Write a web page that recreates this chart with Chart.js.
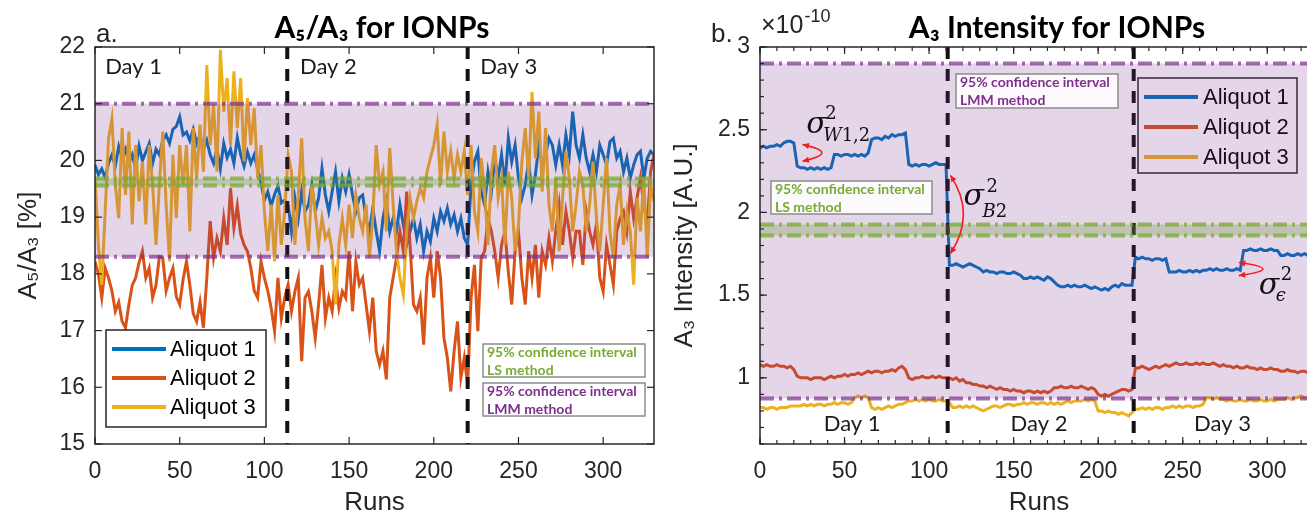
<!DOCTYPE html>
<html>
<head>
<meta charset="utf-8">
<script src="https://cdn.jsdelivr.net/npm/chart.js@4.4.1/dist/chart.umd.min.js"></script>
<style>
html, body { margin: 0; padding: 0; background: #fff; overflow: hidden; width: 1307px; height: 516px; }
#cA { position: absolute; left: 0; top: 0; }
#cB { position: absolute; left: 660px; top: 0; }
</style>
</head>
<body>
<canvas id="cA" width="670" height="516"></canvas>
<canvas id="cB" width="660" height="516"></canvas>
<script>
// runs are sampled every 2
const runs = [];
for (let r = 0; r <= 330; r += 2) runs.push(r);

const seriesNames = ['Aliquot 1', 'Aliquot 2', 'Aliquot 3'];
const seriesColors = ['#0072BD', '#D95319', '#EDB120'];
const dayNames = ['Day 1', 'Day 2', 'Day 3'];

// panel a: A5/A3 [%]
const ratioAliquot1 = [
  19.92, 19.75, 19.85, 19.70, 19.95, 20.10, 19.90, 20.25, 20.05, 20.20, 19.95, 20.10, 19.85, 20.25, 20.00, 20.15, 20.30, 19.95, 20.20, 20.10,
  20.35, 20.45, 20.30, 20.55, 20.60, 20.77, 20.45, 20.50, 20.35, 20.55, 20.30, 20.45, 20.20, 20.35, 20.10, 19.95, 20.20, 19.85, 20.30, 20.05,
  20.20, 19.95, 20.40, 20.10, 19.90, 20.15, 19.95, 20.10, 19.85, 19.60, 19.30, 19.45, 19.20, 19.40, 19.55, 19.25,
  19.30, 19.22, 18.75, 19.34, 18.98, 19.45, 19.10, 19.22, 19.57, 19.10, 19.34, 19.86, 19.39, 19.10, 19.45, 19.80, 19.28, 19.69, 19.45, 19.75,
  19.39, 19.10, 19.34, 19.39, 18.98, 18.75, 19.16, 18.75, 18.40, 18.98, 19.28, 18.75, 18.98, 18.75, 19.22, 18.87, 18.51, 18.75, 18.98, 18.63,
  18.87, 18.40, 18.75, 18.57, 18.98, 18.75, 19.10, 18.93, 19.16, 18.87, 19.04, 18.75, 18.98, 18.63, 18.51,
  19.57, 19.98, 20.16, 19.45, 19.22, 19.80, 19.45, 20.04, 19.69, 20.10, 19.57, 20.39, 19.98, 20.27, 19.69, 19.34, 19.57, 19.98, 19.39, 19.75,
  20.27, 19.92, 20.10, 20.39, 20.27, 19.92, 20.27, 19.92, 20.45, 20.10, 20.86, 20.27, 20.04, 20.45, 20.04, 19.80, 20.10, 19.80, 20.27, 20.10,
  19.92, 20.33, 20.39, 20.04, 20.16, 19.80, 20.04, 19.69, 19.92, 20.10, 20.16, 19.69, 20.04, 20.16, 20.10
];
const ratioAliquot2 = [
  18.22, 18.00, 17.58, 18.10, 17.93, 17.70, 17.34, 17.50, 17.16, 17.05, 17.46, 17.80, 17.93, 18.20, 18.40, 17.93, 18.10, 17.58, 17.80, 18.30,
  18.28, 17.70, 17.93, 18.10, 17.60, 17.46, 17.90, 18.22, 17.80, 17.30, 17.16, 17.50, 17.05, 17.93, 18.93, 18.28, 18.63, 18.40, 18.98, 18.51,
  19.51, 18.81, 19.20, 18.70, 18.51, 18.40, 18.10, 17.70, 17.58, 18.22, 17.93, 17.70, 17.40, 16.99, 17.93, 17.22,
  17.58, 17.81, 17.34, 17.69, 17.93, 16.46, 17.58, 17.69, 17.34, 16.87, 17.46, 18.16, 17.22, 17.58, 17.34, 17.93, 17.40, 17.69, 17.58, 18.40,
  17.34, 18.22, 17.81, 17.93, 17.46, 16.99, 17.58, 16.64, 16.40, 16.64, 16.14, 17.58, 17.93, 18.28, 18.75, 18.40, 19.45, 18.51, 17.46, 17.34,
  17.58, 16.75, 17.93, 18.28, 17.58, 18.40, 17.93, 16.87, 16.52, 15.93, 16.64, 17.16, 16.17, 16.52, 16.05,
  17.58, 18.16, 16.99, 18.28, 18.40, 18.98, 18.75, 18.40, 17.93, 18.51, 18.75, 18.04, 17.46, 18.40, 18.75, 17.93, 17.46, 18.40, 17.93, 18.51,
  17.58, 18.40, 18.16, 18.63, 18.22, 18.75, 19.22, 18.51, 19.10, 18.75, 18.28, 18.75, 18.75, 18.16, 19.10, 18.75, 18.51, 18.87, 17.93, 17.69,
  18.51, 18.16, 17.81, 18.75, 18.98, 19.10, 18.75, 19.45, 18.98, 19.34, 19.69, 19.22, 18.87, 19.80, 20.10
];
const ratioAliquot3 = [
  19.69, 18.51, 17.81, 19.10, 20.39, 20.74, 19.57, 18.98, 20.57, 19.39, 20.51, 18.87, 20.27, 19.28, 19.98, 18.87, 20.27, 19.57, 18.51, 19.57,
  20.51, 19.22, 18.22, 20.10, 18.98, 20.27, 19.57, 20.27, 18.75, 20.57, 19.69, 20.63, 19.80, 21.68, 20.27, 20.98, 19.80, 21.95, 20.86, 21.45,
  20.27, 21.57, 20.57, 21.45, 19.98, 21.10, 20.27, 20.92, 19.69, 20.27, 19.10, 18.40, 19.22, 18.22, 19.39, 18.51,
  19.10, 20.10, 19.80, 18.51, 19.39, 20.39, 18.98, 18.40, 19.57, 19.10, 18.51, 18.98, 18.63, 18.75, 18.40, 17.46, 18.51, 18.98, 18.51, 19.22,
  18.63, 19.39, 18.98, 18.75, 19.22, 18.28, 18.98, 20.27, 19.57, 19.80, 18.75, 20.22, 19.22, 18.40, 17.93, 17.63, 18.75, 19.34, 18.98, 19.28,
  19.51, 19.34, 19.80, 20.04, 20.27, 20.63, 19.57, 20.51, 19.80, 20.16, 19.69, 20.10, 19.80, 20.16, 19.39,
  20.27, 19.10, 18.75, 20.04, 19.45, 18.51, 19.80, 20.27, 19.34, 19.69, 18.51, 19.80, 19.34, 18.40, 18.87, 19.98, 20.57, 19.69, 21.21, 20.04,
  20.86, 19.45, 20.57, 19.22, 18.75, 19.69, 18.40, 19.34, 20.16, 19.69, 18.75, 19.22, 19.80, 19.57, 18.75, 19.22, 19.98, 18.98, 18.40, 19.22,
  20.04, 18.75, 18.28, 19.22, 19.57, 18.51, 19.10, 18.75, 17.81, 19.34, 18.75, 19.69, 18.28, 19.57, 19.28
];
const ratioLMM = [18.3, 21.0];
const ratioLS = [19.56, 19.68];
const ratioDayBreaks = [113.5, 220];

// panel b: A3 intensity, units of 1e-10
const intAliquot1 = [
  2.39, 2.40, 2.39, 2.40, 2.40, 2.41, 2.40, 2.42, 2.43, 2.43, 2.42,
  2.28, 2.27, 2.27, 2.26, 2.27, 2.26, 2.27, 2.26, 2.27, 2.26, 2.27,
  2.35, 2.35, 2.34, 2.35, 2.35, 2.34, 2.35, 2.34, 2.35, 2.34, 2.36,
  2.44, 2.45, 2.45, 2.44, 2.46, 2.45, 2.47, 2.46, 2.47, 2.47, 2.48,
  2.29, 2.28, 2.29, 2.28, 2.29, 2.29, 2.28, 2.29, 2.30, 2.29, 2.29, 2.29,
  1.68, 1.68, 1.69, 1.68, 1.67, 1.68, 1.69, 1.68, 1.67, 1.66,
  1.64, 1.65, 1.64, 1.64, 1.63, 1.64, 1.64, 1.63, 1.63, 1.64, 1.63, 1.62,
  1.60, 1.60, 1.61, 1.60, 1.61, 1.60, 1.59, 1.61, 1.60, 1.58,
  1.56, 1.55, 1.55, 1.56, 1.55, 1.56, 1.55, 1.55, 1.56, 1.55, 1.54, 1.55, 1.54, 1.53, 1.54, 1.53, 1.55, 1.56, 1.55, 1.57, 1.56, 1.56, 1.56,
  1.73, 1.72, 1.73, 1.72, 1.72, 1.71, 1.72, 1.72, 1.71, 1.72,
  1.64, 1.64, 1.64, 1.65, 1.64, 1.64, 1.65, 1.64, 1.65, 1.64, 1.65, 1.65, 1.66, 1.65, 1.66, 1.65, 1.65, 1.66, 1.65, 1.65, 1.66, 1.65,
  1.77, 1.77, 1.78, 1.77, 1.77, 1.78, 1.77, 1.77, 1.78, 1.77, 1.77,
  1.74, 1.74, 1.75, 1.74, 1.74, 1.75, 1.74, 1.75, 1.74, 1.74, 1.73, 1.74
];
const intAliquot2 = [
  1.08, 1.07, 1.08, 1.07, 1.07, 1.08, 1.07, 1.07, 1.06, 1.07, 1.05,
  1.01, 1.00, 1.00, 1.00, 0.99, 1.00, 1.00, 1.00, 0.99, 1.00, 1.01, 1.00, 1.01, 1.01, 1.02, 1.01, 1.02, 1.02, 1.03, 1.02,
  1.03, 1.04, 1.03, 1.04, 1.04, 1.03, 1.04, 1.04, 1.05, 1.04, 1.06, 1.07, 1.05,
  1.00, 0.99, 1.00, 1.00, 1.01, 1.00, 1.00, 1.01, 1.00, 1.01, 1.00, 1.00,
  1.00, 0.99, 1.00, 0.98, 0.99, 0.97, 0.97, 0.96, 0.96, 0.95, 0.95, 0.94, 0.95, 0.94, 0.93, 0.94, 0.93, 0.93, 0.92, 0.93,
  0.92, 0.92, 0.91, 0.92, 0.92, 0.91, 0.92, 0.91, 0.92, 0.91, 0.92, 0.94, 0.94, 0.95, 0.94, 0.94, 0.95, 0.94, 0.94, 0.95,
  0.94, 0.93, 0.94, 0.93, 0.90, 0.89, 0.90, 0.89, 0.90, 0.91, 0.92, 0.93, 0.93, 0.92, 0.93,
  1.06, 1.06, 1.07, 1.06, 1.05, 1.06, 1.07, 1.06, 1.07, 1.08, 1.07, 1.08, 1.09, 1.08, 1.08, 1.09, 1.08, 1.08, 1.09, 1.08,
  1.09, 1.08, 1.08, 1.09, 1.08, 1.07, 1.08, 1.07, 1.07, 1.06, 1.07, 1.06, 1.06, 1.07, 1.06, 1.06, 1.05, 1.06, 1.05, 1.05,
  1.06, 1.05, 1.05, 1.04, 1.04, 1.05, 1.04, 1.04, 1.03, 1.04, 1.04, 1.03, 1.04, 1.04, 1.03
];
const intAliquot3 = [
  0.82, 0.82, 0.81, 0.82, 0.82, 0.81, 0.82, 0.82, 0.82, 0.83, 0.83, 0.83, 0.83, 0.84, 0.83, 0.84, 0.83, 0.84, 0.84, 0.83,
  0.84, 0.84, 0.85, 0.84, 0.85, 0.85, 0.84, 0.85, 0.88, 0.89, 0.88, 0.89, 0.88, 0.82, 0.81, 0.82, 0.81, 0.82, 0.83, 0.82,
  0.83, 0.84, 0.84, 0.85, 0.86, 0.86, 0.87, 0.86, 0.87, 0.86, 0.87, 0.86, 0.86, 0.87, 0.86, 0.86,
  0.85, 0.82, 0.82, 0.83, 0.82, 0.83, 0.82, 0.83, 0.82, 0.81, 0.80, 0.81, 0.82, 0.83, 0.83, 0.82, 0.83, 0.84, 0.84, 0.83,
  0.84, 0.84, 0.85, 0.84, 0.85, 0.85, 0.84, 0.85, 0.85, 0.84, 0.85, 0.84, 0.85, 0.84, 0.85, 0.86, 0.85, 0.86, 0.86, 0.86,
  0.87, 0.86, 0.87, 0.86, 0.80, 0.80, 0.79, 0.80, 0.79, 0.79, 0.78, 0.79, 0.78, 0.77, 0.79,
  0.81, 0.81, 0.82, 0.81, 0.82, 0.81, 0.82, 0.82, 0.81, 0.82, 0.82, 0.83, 0.82, 0.83, 0.82, 0.83, 0.83, 0.82, 0.83, 0.83,
  0.84, 0.88, 0.88, 0.87, 0.88, 0.87, 0.87, 0.86, 0.87, 0.86, 0.86, 0.87, 0.86, 0.86, 0.87, 0.86, 0.86, 0.87, 0.86, 0.86,
  0.87, 0.86, 0.87, 0.87, 0.87, 0.88, 0.87, 0.88, 0.88, 0.89, 0.88, 0.88, 0.87, 0.88, 0.88
];
const intLMM = [0.875, 2.9];
const intLS = [1.86, 1.927];
const intDayBreaks = [111, 221];

const INK = '#262626';
const FONT = '"Liberation Sans", Arial, sans-serif';
const CAL = 'Lato, "Open Sans", sans-serif';
const SERIF = '"DejaVu Serif", "Liberation Serif", serif';

function makeSets(arrs) {
  return arrs.map((vals, i) => ({
    label: seriesNames[i],
    data: vals.map((v, k) => ({ x: runs[k], y: v })),
    borderColor: seriesColors[i],
    backgroundColor: seriesColors[i],
    borderWidth: 3,
    pointRadius: 0,
    tension: 0,
    order: 2 - i
  }));
}

function hline(ctx, a, y) { ctx.beginPath(); ctx.moveTo(a.left, y); ctx.lineTo(a.right, y); ctx.stroke(); }
function seg(ctx, x1, y1, x2, y2) { ctx.beginPath(); ctx.moveTo(x1, y1); ctx.lineTo(x2, y2); ctx.stroke(); }

function arrowHead(ctx, fx, fy, tx, ty) {
  const ang = Math.atan2(ty - fy, tx - fx), s = 7;
  ctx.beginPath();
  ctx.moveTo(tx, ty);
  ctx.lineTo(tx - s * Math.cos(ang - 0.45), ty - s * Math.sin(ang - 0.45));
  ctx.lineTo(tx - s * Math.cos(ang + 0.45), ty - s * Math.sin(ang + 0.45));
  ctx.closePath();
  ctx.fill();
}

const decor = {
  id: 'decor',
  afterDatasetsDraw(chart, args, o) {
    const ctx = chart.ctx, a = chart.chartArea, sx = chart.scales.x, sy = chart.scales.y;
    ctx.save();

    // legend
    const L = o.legend;
    ctx.fillStyle = '#fff';
    ctx.fillRect(L.x, L.y, L.w, L.h);
    ctx.strokeStyle = INK; ctx.lineWidth = 1.5;
    ctx.strokeRect(L.x, L.y, L.w, L.h);
    ctx.font = '22px ' + FONT; ctx.textBaseline = 'middle'; ctx.textAlign = 'left';
    seriesNames.forEach((n, i) => {
      ctx.strokeStyle = seriesColors[i]; ctx.lineWidth = 4;
      seg(ctx, L.lineX[0], L.rowY[i], L.lineX[1], L.rowY[i]);
      ctx.fillStyle = '#000';
      ctx.fillText(n, L.textX, L.rowY[i] + 1);
    });

    // day separators
    ctx.save();
    ctx.beginPath(); ctx.rect(a.left, a.top, a.right - a.left, a.bottom - a.top); ctx.clip();
    ctx.strokeStyle = '#111'; ctx.lineWidth = 4; ctx.setLineDash([12, 10]);
    o.breaks.forEach(b => { const x = sx.getPixelForValue(b); seg(ctx, x, a.top, x, a.bottom); });
    ctx.setLineDash([]);

    // confidence bands
    const pTop = sy.getPixelForValue(o.lmm[1]), pBot = sy.getPixelForValue(o.lmm[0]);
    ctx.fillStyle = 'rgba(126,47,142,0.2)';
    ctx.fillRect(a.left, pTop, a.right - a.left, pBot - pTop);
    const gTop = sy.getPixelForValue(o.ls[1]), gBot = sy.getPixelForValue(o.ls[0]);
    ctx.fillStyle = 'rgba(110,150,60,0.3)';
    ctx.fillRect(a.left, gTop, a.right - a.left, gBot - gTop);

    ctx.lineWidth = 4; ctx.setLineDash([14, 5, 3, 5]);
    ctx.strokeStyle = 'rgba(126,47,142,0.7)';
    hline(ctx, a, pTop); hline(ctx, a, pBot);
    ctx.strokeStyle = 'rgba(119,172,48,0.75)';
    hline(ctx, a, gTop); hline(ctx, a, gBot);
    ctx.setLineDash([]);
    ctx.restore();

    // box and inward ticks
    ctx.strokeStyle = INK; ctx.lineWidth = 1.5;
    ctx.strokeRect(a.left, a.top, a.right - a.left, a.bottom - a.top);
    ctx.lineWidth = 1.2;
    sx.ticks.forEach(t => {
      const x = sx.getPixelForValue(t.value);
      seg(ctx, x, a.bottom, x, a.bottom - 7); seg(ctx, x, a.top, x, a.top + 7);
    });
    sy.ticks.forEach(t => {
      const y = sy.getPixelForValue(t.value);
      seg(ctx, a.left, y, a.left + 7, y); seg(ctx, a.right, y, a.right - 7, y);
    });
    if (o.minorX) {
      for (let v = 0; v <= sx.max; v += o.minorX) {
        const x = sx.getPixelForValue(v);
        seg(ctx, x, a.bottom, x, a.bottom - 4); seg(ctx, x, a.top, x, a.top + 4);
      }
    }
    if (o.minorY) {
      for (let v = sy.min; v <= sy.max + 1e-9; v += o.minorY) {
        const y = sy.getPixelForValue(v);
        seg(ctx, a.left, y, a.left + 4, y); seg(ctx, a.right, y, a.right - 4, y);
      }
    }

    // day labels
    ctx.fillStyle = '#1a1a1a'; ctx.font = '22px ' + CAL; ctx.textBaseline = 'middle';
    o.days.forEach((d, i) => {
      ctx.textAlign = d.align;
      ctx.fillText(dayNames[i], sx.getPixelForValue(d.x), sy.getPixelForValue(d.y));
    });

    // confidence interval notes
    o.notes.forEach(n => {
      ctx.fillStyle = 'rgba(255,255,255,0.88)';
      ctx.fillRect(n.x, n.y, n.w, n.h);
      ctx.strokeStyle = '#8c8c8c'; ctx.lineWidth = 1.5;
      ctx.strokeRect(n.x, n.y, n.w, n.h);
      ctx.fillStyle = n.color; ctx.font = 'bold 14px ' + CAL; ctx.textAlign = 'left'; ctx.textBaseline = 'middle';
      ctx.fillText('95% confidence interval', n.x + 4, n.y + 8);
      ctx.fillText(n.method, n.x + 4, n.y + 26);
    });

    // variance annotations
    (o.sigmas || []).forEach(s => {
      const ax = sx.getPixelForValue(s.ax), y1 = sy.getPixelForValue(s.ay1), y2 = sy.getPixelForValue(s.ay2);
      const cx = sx.getPixelForValue(s.cx), cy = (y1 + y2) / 2;
      ctx.strokeStyle = '#f21d1d'; ctx.fillStyle = '#f21d1d'; ctx.lineWidth = 1.6;
      ctx.beginPath(); ctx.moveTo(ax, y1); ctx.quadraticCurveTo(cx, cy, ax, y2); ctx.stroke();
      arrowHead(ctx, cx, cy, ax, y1); arrowHead(ctx, cx, cy, ax, y2);
      const tx = sx.getPixelForValue(s.tx), ty = sy.getPixelForValue(s.ty);
      ctx.fillStyle = '#111'; ctx.textAlign = 'left'; ctx.textBaseline = 'alphabetic';
      ctx.font = 'italic 30px ' + SERIF;
      ctx.fillText('σ', tx, ty);
      ctx.font = '18px ' + SERIF;
      ctx.fillText('2', tx + s.sup[0], ty + s.sup[1]);
      let x = tx + s.sub[0];
      s.subParts.forEach(p => {
        ctx.font = (p.it ? 'italic ' : '') + '18px ' + SERIF;
        ctx.fillText(p.t, x, ty + s.sub[1]);
        x += ctx.measureText(p.t).width;
      });
    });

    // title, panel letter, exponent
    ctx.fillStyle = '#000'; ctx.textBaseline = 'alphabetic';
    ctx.font = 'bold 30px ' + CAL; ctx.textAlign = 'center';
    ctx.fillText(o.title.text, o.title.x, o.title.y);
    ctx.font = '26px ' + FONT; ctx.textAlign = 'left'; ctx.fillStyle = INK;
    ctx.fillText(o.panel.text, o.panel.x, o.panel.y);
    if (o.expo) {
      ctx.font = '25px ' + FONT;
      ctx.fillText('×10', o.expo.x, o.expo.y);
      const w = ctx.measureText('×10').width;
      ctx.font = '18px ' + FONT;
      ctx.fillText('-10', o.expo.x + w + 1, o.expo.y - 11);
    }
    ctx.restore();
  }
};

function axisOpts(min, max, step, width, tickPad, titleText, titlePad, tickCb) {
  return {
    x: {
      type: 'linear', min: 0, max: 330,
      grid: { display: false, drawTicks: false },
      border: { display: false },
      ticks: { stepSize: 50, includeBounds: false, padding: 14, color: INK, maxRotation: 0, autoSkip: false, font: { size: 23, family: FONT } },
      title: { display: true, text: 'Runs', color: INK, padding: 0, font: { size: 26, family: FONT, lineHeight: 1 } },
      afterFit: s => { s.height = 72; }
    },
    y: {
      type: 'linear', min: min, max: max,
      grid: { display: false, drawTicks: false },
      border: { display: false },
      ticks: { stepSize: step, includeBounds: false, padding: tickPad, color: INK, font: { size: 23, family: FONT }, callback: tickCb },
      title: { display: true, text: titleText, color: INK, padding: { top: titlePad, bottom: 0 }, font: { size: 26, family: FONT, lineHeight: 1.2 } },
      afterFit: s => { s.width = width; }
    }
  };
}

new Chart(document.getElementById('cA'), {
  type: 'line',
  data: { datasets: makeSets([ratioAliquot1, ratioAliquot2, ratioAliquot3]) },
  options: {
    responsive: false, animation: false, devicePixelRatio: 1,
    layout: { padding: { top: 47, right: 16, left: 0, bottom: 0 } },
    scales: axisOpts(15, 22, 1, 95, 10, 'A₅/A₃ [%]', 13, v => v),
    plugins: {
      legend: { display: false }, tooltip: { enabled: false },
      decor: {
        legend: { x: 106, y: 330, w: 160, h: 97, rowY: [349, 378, 407], lineX: [112, 166], textX: 170 },
        breaks: ratioDayBreaks, lmm: ratioLMM, ls: ratioLS,
        days: [{ x: 6, y: 21.65, align: 'left' }, { x: 121, y: 21.65, align: 'left' }, { x: 227.5, y: 21.65, align: 'left' }],
        notes: [
          { x: 483, y: 344, w: 162, h: 33, color: '#77AC30', method: 'LS method' },
          { x: 483, y: 383, w: 162, h: 33, color: '#7E2F8E', method: 'LMM method' }
        ],
        title: { text: 'A₅/A₃ for IONPs', x: 382, y: 38 },
        panel: { text: 'a.', x: 96, y: 42 }
      }
    }
  },
  plugins: [decor]
});

new Chart(document.getElementById('cB'), {
  type: 'line',
  data: { datasets: makeSets([intAliquot1, intAliquot2, intAliquot3]) },
  options: {
    responsive: false, animation: false, devicePixelRatio: 1,
    layout: { padding: { top: 47, right: 2, left: 0, bottom: 0 } },
    scales: axisOpts(0.6, 3, 0.5, 100, 10, 'A₃ Intensity [A.U.]', 9, v => v),
    plugins: {
      legend: { display: false }, tooltip: { enabled: false },
      decor: {
        legend: { x: 478, y: 78, w: 159, h: 95, rowY: [97, 127, 157], lineX: [484, 538], textX: 543 },
        breaks: intDayBreaks, lmm: intLMM, ls: intLS,
        minorX: 10, minorY: 0.1,
        days: [{ x: 54.5, y: 0.72, align: 'center' }, { x: 165, y: 0.72, align: 'center' }, { x: 273.5, y: 0.72, align: 'center' }],
        notes: [
          { x: 296, y: 74, w: 162, h: 34, color: '#7E2F8E', method: 'LMM method' },
          { x: 111, y: 181, w: 161, h: 33, color: '#77AC30', method: 'LS method' }
        ],
        sigmas: [
          { ax: 25.2, ay1: 2.41, ay2: 2.31, cx: 48, tx: 27.3, ty: 2.479, sup: [19, -14], sub: [17, 8], subParts: [{ t: 'W', it: true }, { t: '1,2', it: false }] },
          { ax: 112.6, ay1: 2.224, ay2: 1.752, cx: 128, tx: 120.3, ty: 2.042, sup: [23, -13], sub: [19, 12], subParts: [{ t: 'B', it: true }, { t: '2', it: false }] },
          { ax: 283.2, ay1: 1.697, ay2: 1.618, cx: 311.6, tx: 295, ty: 1.509, sup: [22, -14], sub: [17, 7], subParts: [{ t: 'ϵ', it: true }] }
        ],
        title: { text: 'A₃ Intensity for IONPs', x: 397, y: 38 },
        panel: { text: 'b.', x: 51, y: 42 },
        expo: { x: 101, y: 33 }
      }
    }
  },
  plugins: [decor]
});
</script>
</body>
</html>
